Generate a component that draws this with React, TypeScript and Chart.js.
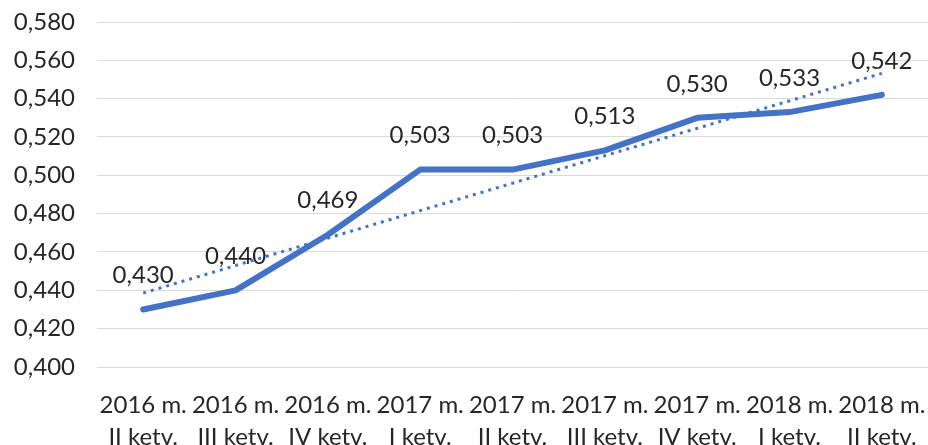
import React, { useEffect, useRef } from "react";
import { Chart, registerables } from "chart.js";

Chart.register(...registerables);

const categories: string[][] = [
  ["2016 m.", "II ketv."],
  ["2016 m.", "III ketv."],
  ["2016 m.", "IV ketv."],
  ["2017 m.", "I ketv."],
  ["2017 m.", "II ketv."],
  ["2017 m.", "III ketv."],
  ["2017 m.", "IV ketv."],
  ["2018 m.", "I ketv."],
  ["2018 m.", "II ketv."],
];
const values: number[] = [0.43, 0.44, 0.469, 0.503, 0.503, 0.513, 0.53, 0.533, 0.542];
// linear trendline end points
const trendStart = 0.4386;
const trendEnd = 0.5532;
const yMin = 0.4;
const yMax = 0.58;
const yStep = 0.02;

const FONT = "Lato, 'Open Sans', sans-serif";
const BLUE = "#4472C4";
const TEXT = "#262626";

const fmt = (v: number) => v.toFixed(3).replace(".", ",");

const labelPlugin = {
  id: "valueLabels",
  afterDatasetsDraw(chart: any) {
    const meta = chart.getDatasetMeta(0);
    const ctx = chart.ctx;
    ctx.save();
    ctx.font = `24px ${FONT}`;
    ctx.fillStyle = TEXT;
    ctx.textAlign = "center";
    ctx.textBaseline = "middle";
    meta.data.forEach((pt: any, i: number) => {
      ctx.fillText(fmt(values[i]), pt.x, pt.y - 34);
    });
    ctx.restore();
  },
};

export default function App() {
  const ref = useRef<HTMLCanvasElement>(null);
  useEffect(() => {
    document.body.style.margin = "0";
    const trend = values.map((_, i) =>
      i === 0 ? trendStart : i === values.length - 1 ? trendEnd : null
    );
    const chart = new Chart(ref.current!, {
      type: "line",
      data: {
        labels: categories,
        datasets: [
          {
            data: values,
            borderColor: BLUE,
            borderWidth: 6,
            pointRadius: 0,
            tension: 0,
            borderJoinStyle: "round",
            borderCapStyle: "round",
          },
          {
            data: trend,
            borderColor: BLUE,
            borderWidth: 3,
            borderDash: [3, 5],
            pointRadius: 0,
            spanGaps: true,
          },
        ],
      },
      options: {
        animation: false,
        responsive: false,
        layout: { padding: { top: 22, right: 0, left: 0, bottom: 0 } },
        plugins: { legend: { display: false }, tooltip: { enabled: false } },
        scales: {
          x: {
            offset: true,
            grid: { display: false },
            border: { display: false },
            ticks: {
              color: TEXT,
              font: { family: FONT, size: 24, lineHeight: 1.35 },
              maxRotation: 0,
              autoSkip: false,
              padding: 14,
            },
            afterFit: (s: any) => {
              s.height = 78;
              s.paddingLeft = 0;
              s.paddingRight = 0;
            },
          },
          y: {
            min: yMin,
            max: yMax,
            grid: { color: "#d9d9d9", lineWidth: 1, drawTicks: false },
            border: { display: false },
            ticks: {
              stepSize: yStep,
              color: TEXT,
              font: { family: FONT, size: 24 },
              padding: 22,
              callback: (v: any) => fmt(Number(v)),
            },
            afterFit: (s: any) => {
              s.width = 97;
              s.paddingTop = 0;
              s.paddingBottom = 0;
            },
          },
        },
      },
      plugins: [labelPlugin],
    });
    return () => chart.destroy();
  }, []);
  return (
    <div style={{ width: 928, height: 445 }}>
      <canvas ref={ref} width={928} height={445} style={{ display: "block" }} />
    </div>
  );
}
